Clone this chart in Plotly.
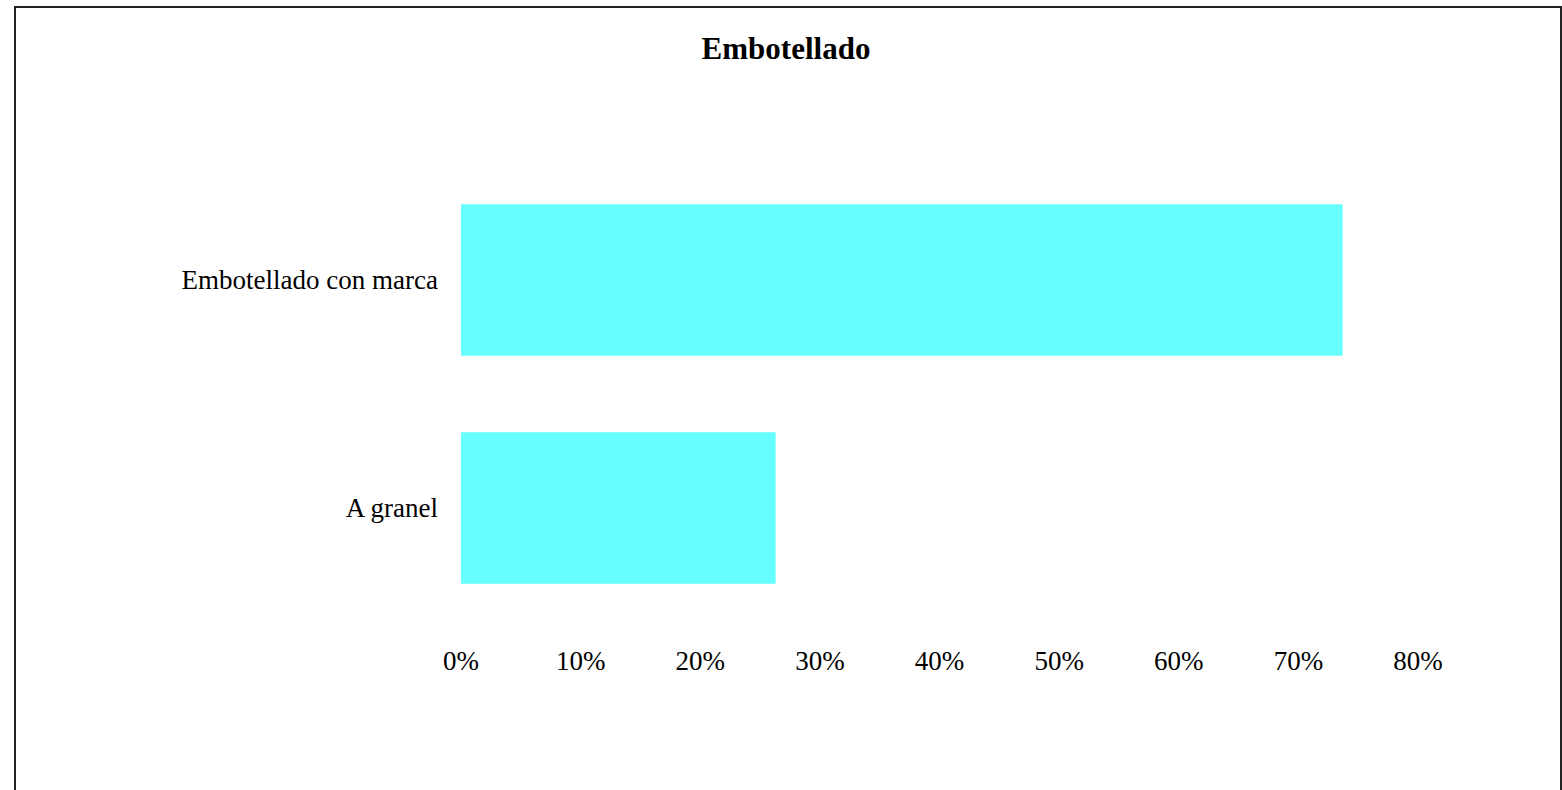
import plotly.graph_objects as go

categories = ["A granel", "Embotellado con marca"]
values = [26.3, 73.7]
tick_vals = [0, 10, 20, 30, 40, 50, 60, 70, 80]
tick_text = ["0%", "10%", "20%", "30%", "40%", "50%", "60%", "70%", "80%"]
title_text = "Embotellado"

W, H = 1562, 790
L, R, T, B = 461, 144, 166, 168

fig = go.Figure(go.Bar(
    y=categories, x=values, orientation="h",
    marker=dict(color="#66FFFF", line=dict(width=0)),
    width=0.665,
))

fig.update_layout(
    width=W, height=H,
    margin=dict(l=L, r=R, t=T, b=B, pad=0),
    paper_bgcolor="white", plot_bgcolor="white",
    font=dict(family="Liberation Serif, Times New Roman, serif", size=27, color="black"),
    title=dict(text="<b>" + title_text + "</b>", x=786 / W, xref="container", xanchor="center",
               y=1 - 48 / H, yref="container", yanchor="middle",
               font=dict(size=31, family="Liberation Serif, Times New Roman, serif", color="black")),
    showlegend=False,
)

fig.update_xaxes(range=[0, 80], tickvals=tick_vals, ticktext=tick_text,
                 showgrid=False, zeroline=False, showline=False, ticks="",
                 ticklabelstandoff=20)
fig.update_yaxes(range=[-0.5, 1.5], showgrid=False, zeroline=False, showline=False,
                 ticks="", ticklabelstandoff=22)

pw = W - L - R
ph = H - T - B
fig.add_shape(type="rect", xref="paper", yref="paper",
              x0=(15 - L) / pw, x1=(1561 - L) / pw,
              y0=-(H + 20 - (H - B)) / ph,
              y1=(H - B - 7) / ph,
              line=dict(color="#222222", width=2), fillcolor="rgba(0,0,0,0)", layer="above")

fig.write_html("out.html", config={"displayModeBar": False},
               post_script="document.body.style.margin='0';document.body.style.overflow='hidden';")
